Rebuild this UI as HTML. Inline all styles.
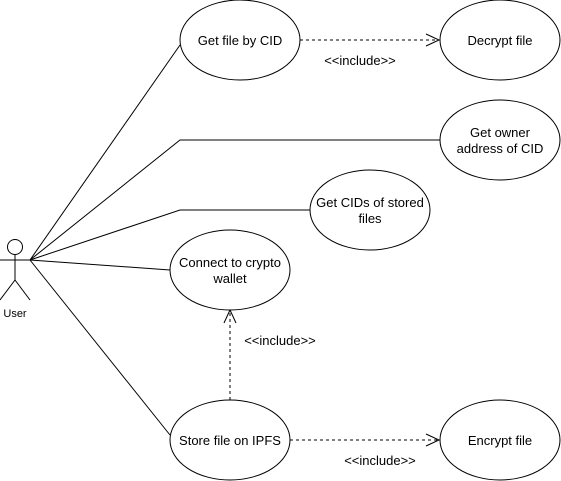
<!DOCTYPE html>
<html><head><meta charset="utf-8"><style>html,body{margin:0;padding:0;background:#fff}svg{display:block}</style></head>
<body>
<svg width="561" height="481" viewBox="0 0 561 481" xmlns="http://www.w3.org/2000/svg" font-family="Liberation Sans, Arial, sans-serif" font-size="13">
<g stroke="#000" fill="none" stroke-width="1">
<circle cx="15" cy="247" r="7.5" fill="#fff"/>
<line x1="15" y1="254.5" x2="15" y2="280"/>
<line x1="0" y1="260" x2="30" y2="260"/>
<line x1="15" y1="280" x2="0" y2="300"/>
<line x1="15" y1="280" x2="30" y2="300"/>
<line x1="30" y1="260" x2="180" y2="45"/>
<polyline points="30,260 180,140 440,140"/>
<polyline points="30,260 180,210 310,210"/>
<line x1="30" y1="260" x2="170" y2="270"/>
<line x1="30" y1="260" x2="170" y2="435"/>
<line x1="300" y1="40" x2="438" y2="40" stroke-dasharray="3,3"/>
<polyline points="426,34 439,40 426,46"/>
<line x1="230" y1="400" x2="230" y2="312" stroke-dasharray="3,3"/>
<polyline points="224,323 230,310 236,323"/>
<line x1="290" y1="440" x2="438" y2="440" stroke-dasharray="3,3"/>
<polyline points="426,434 439,440 426,446"/>
<ellipse cx="240" cy="40" rx="60" ry="40" fill="#fff"/>
<ellipse cx="500" cy="40" rx="60" ry="40" fill="#fff"/>
<ellipse cx="500" cy="140" rx="60" ry="40" fill="#fff"/>
<ellipse cx="370" cy="210" rx="60" ry="40" fill="#fff"/>
<ellipse cx="230" cy="270" rx="60" ry="40" fill="#fff"/>
<ellipse cx="230" cy="440" rx="60" ry="40" fill="#fff"/>
<ellipse cx="500" cy="440" rx="60" ry="40" fill="#fff"/>
</g>
<g fill="#000" text-anchor="middle">
<text x="15" y="317" font-size="11">User</text>
<text x="240" y="45">Get file by CID</text>
<text x="500" y="45">Decrypt file</text>
<text x="500" y="137">Get owner</text>
<text x="500" y="153">address of CID</text>
<text x="370" y="207">Get CIDs of stored</text>
<text x="370" y="223">files</text>
<text x="230" y="267">Connect to crypto</text>
<text x="230" y="283">wallet</text>
<text x="230" y="445">Store file on IPFS</text>
<text x="500" y="445">Encrypt file</text>
<text x="360" y="65">&lt;&lt;include&gt;&gt;</text>
<text x="280" y="345">&lt;&lt;include&gt;&gt;</text>
<text x="380" y="465">&lt;&lt;include&gt;&gt;</text>
</g>
</svg>
</body></html>
